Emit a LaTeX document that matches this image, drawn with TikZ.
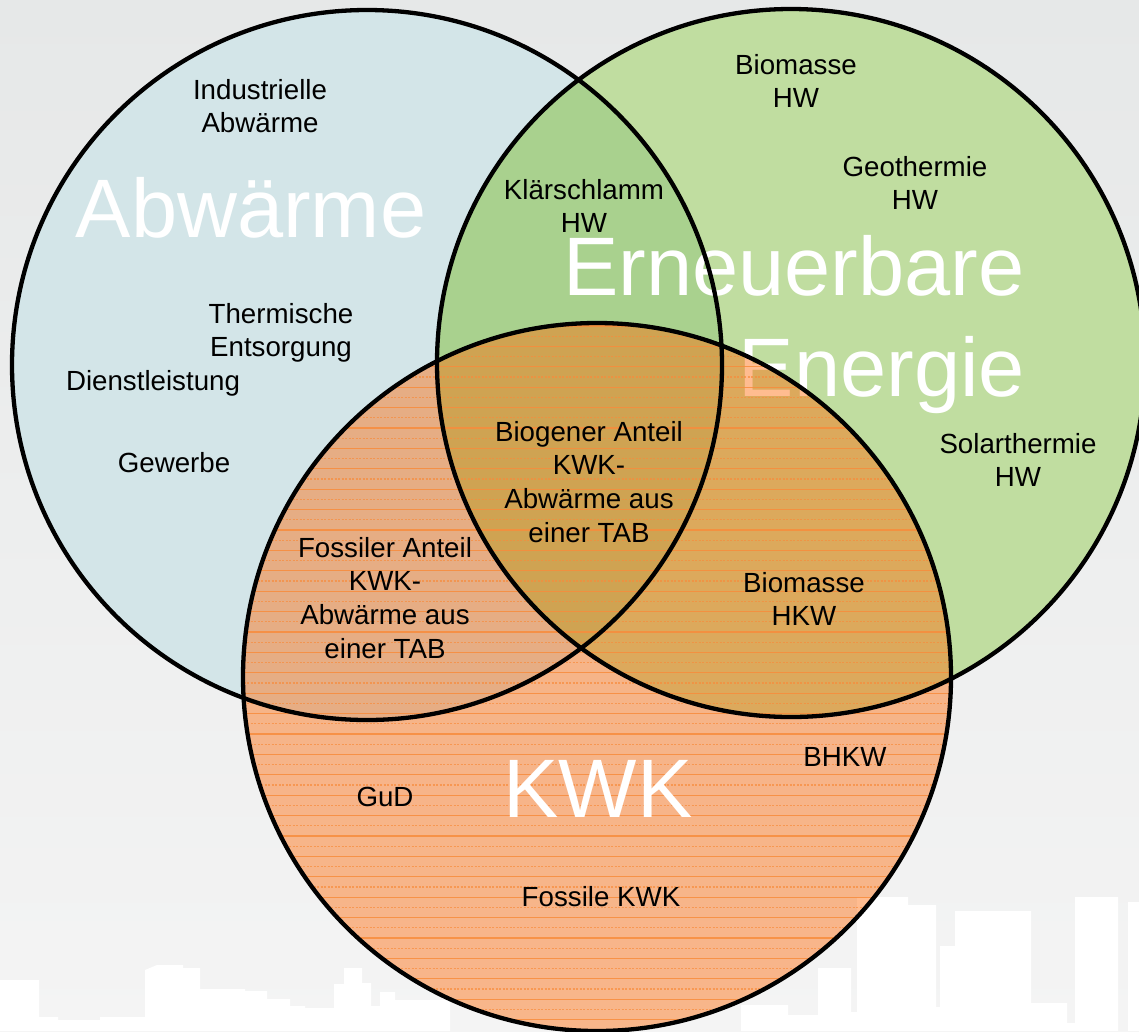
\documentclass[tikz,border=0pt]{standalone}
\usepackage{fontspec}
\setmainfont{Liberation Sans}
\definecolor{bgtop}{HTML}{E6E8E8}
\definecolor{bgbot}{HTML}{F4F4F4}
\definecolor{colA}{HTML}{D3E5E8}
\definecolor{colB}{HTML}{C0DDA0}
\definecolor{colAB}{HTML}{A9D18E}
\definecolor{colC}{RGB}{255,107,11}
\definecolor{stripe}{RGB}{248,140,60}
\newcommand{\lblstack}[1]{\begin{tabular}[t]{@{}c@{}}#1\end{tabular}}
\begin{document}
\begin{tikzpicture}[x=1pt,y=-1pt,
  ring/.style={draw=black,line width=4.3pt},
  lbl/.style={font=\fontsize{27.7}{33.7}\selectfont,text=black,inner sep=0pt,anchor=base},
  big/.style={font=\fontsize{83}{100}\selectfont,text=white,inner sep=0pt,anchor=base},
  city/.style={fill=white},
  stripesolid/.style={draw=stripe,line width=1.2pt,opacity=0.85},
  stripedash/.style={draw=stripe,line width=1.2pt,opacity=0.7,dash pattern=on 2pt off 1.5pt}]
\useasboundingbox (0,0) rectangle (1139,1031);
\shade[top color=bgtop,bottom color=bgbot] (0,0) rectangle (1139,1031);
% skyline
\fill[city] (0,1031) -- (0,980) -- (39,980) -- (39,1017) -- (58,1017) -- (58,1020) -- (100,1020) -- (100,1017) -- (145,1017) -- (145,970) -- (157,965) -- (183,965) -- (183,968) -- (200,968) -- (200,989) -- (245,989) -- (245,991) -- (267,991) -- (267,999) -- (290,999) -- (290,1006) -- (305,1006) -- (305,1008) -- (334,1008) -- (334,984) -- (344,984) -- (344,968) -- (362,968) -- (362,983) -- (371,983) -- (371,1006) -- (380,1006) -- (380,992) -- (395,992) -- (395,1000) -- (450,1000) -- (450,1031) -- cycle;
\fill[city] (741,1031) -- (741,1005) -- (788,1005) -- (788,1015) -- (818,1015) -- (818,968) -- (851,968) -- (851,1012) -- (857,1012) -- (857,897) -- (908,897) -- (908,905) -- (936,905) -- (936,1007) -- (940,1007) -- (940,946) -- (955,946) -- (955,911) -- (1031,911) -- (1031,1003) -- (1067,1003) -- (1067,1023) -- (1075,1023) -- (1075,897) -- (1118,897) -- (1118,1031) -- (1128,1031) -- (1128,902) -- (1139,902) -- (1139,1031) -- cycle;
\coordinate (cA) at (367,365);
\coordinate (cB) at (791,363);
\coordinate (cC) at (597,677);
% fills
\fill[colA] (cA) circle[radius=355pt];
\fill[colB] (cB) circle[radius=354pt];
\begin{scope}
  \clip (cA) circle[radius=355pt];
  \fill[colAB] (cB) circle[radius=354pt];
\end{scope}
% big labels under the orange circle
\node[big] (tAbw) at (251,237) {Abwärme};
\node[big,anchor=base east] (tErn) at (1025,295) {Erneuerbare};
\node[big,anchor=base east] (tEne) at (1025,396) {Energie};
% orange circle
\fill[colC,opacity=0.45] (cC) circle[radius=354pt];
\begin{scope}
  \clip (cC) circle[radius=354pt];
  \foreach \k in {0,...,35} {
    \draw[stripesolid] (240,{326+20.4*\k}) -- (955,{326+20.4*\k});
    \draw[stripedash] (240,{336.2+20.4*\k}) -- (955,{336.2+20.4*\k});
  }
\end{scope}
% outlines
\draw[ring] (cA) circle[radius=355pt];
\draw[ring] (cB) circle[radius=354pt];
\draw[ring] (cC) circle[radius=354pt];
\node[big] (tKWK) at (598,817) {KWK};
% small labels
\node[lbl] (ind) at (260,99) {\lblstack{Industrielle\\Abwärme}};
\node[lbl] (therm) at (281,323) {\lblstack{Thermische\\Entsorgung}};
\node[lbl] (dienst) at (153,390) {Dienstleistung};
\node[lbl] (gew) at (174,472) {Gewerbe};
\node[lbl] (klaer) at (584,199) {\lblstack{Klärschlamm\\HW}};
\node[lbl] (biohw) at (796,74) {\lblstack{Biomasse\\HW}};
\node[lbl] (geo) at (915,176) {\lblstack{Geothermie\\HW}};
\node[lbl] (solar) at (1018,453) {\lblstack{Solarthermie\\HW}};
\node[lbl] (biogen) at (589,441) {\lblstack{Biogener Anteil\\KWK-\\Abwärme aus\\einer TAB}};
\node[lbl] (fossil) at (385,557) {\lblstack{Fossiler Anteil\\KWK-\\Abwärme aus\\einer TAB}};
\node[lbl] (biohkw) at (804,592) {\lblstack{Biomasse\\HKW}};
\node[lbl] (bhkw) at (845,766) {BHKW};
\node[lbl] (gud) at (385,806) {GuD};
\node[lbl] (fkwk) at (601,906) {Fossile KWK};
\end{tikzpicture}
\end{document}
